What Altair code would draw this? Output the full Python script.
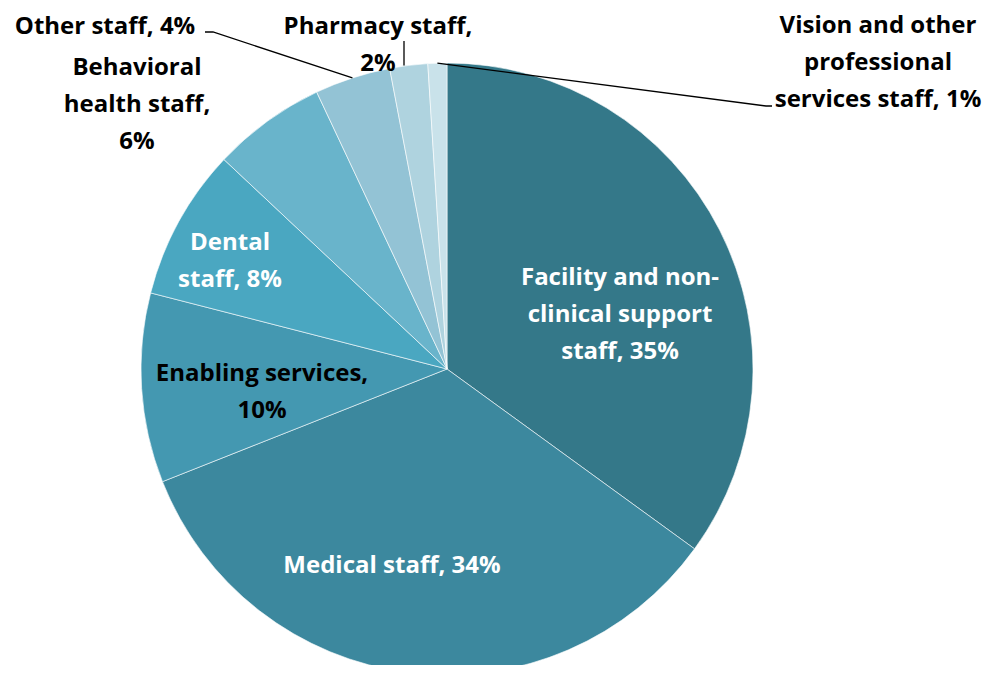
import math
import altair as alt
import pandas as pd

# ---- data ----
categories = [
    "Facility and non-clinical support staff",
    "Medical staff",
    "Enabling services",
    "Dental staff",
    "Behavioral health staff",
    "Other staff",
    "Pharmacy staff",
    "Vision and other professional services staff",
]
shares = [35, 34, 10, 8, 6, 4, 2, 1]
label_texts = [
    "Facility and non-\nclinical support\nstaff, 35%",
    "Medical staff, 34%",
    "Enabling services,\n10%",
    "Dental\nstaff, 8%",
    "Behavioral\nhealth staff,\n6%",
    "Other staff, 4%",
    "Pharmacy staff,\n2%",
    "Vision and other\nprofessional\nservices staff, 1%",
]
colors = ["#347889", "#3C889E", "#4498B1", "#4AA7C1", "#69B4CB", "#93C3D5", "#AFD3DF", "#C9E2EA"]
label_colors = ["white", "white", "black", "white", "black", "black", "black", "black"]

# ---- layout (pixels in plot area; y = first line) ----
CX, CY, R = 439, 361, 306
label_pos = [(612, 270), (384, 558), (254, 366), (222, 235), (129, 60), (97, 19), (370, 19), (870, 18)]
leader_ends = {
    5: [(205, 24), (197, 24)],
    6: [(396, 33)],
    7: [(758, 98), (764, 98)],
}

df = pd.DataFrame({"category": categories, "share": shares, "idx": list(range(len(shares)))})

lab = pd.DataFrame({
    "text": label_texts,
    "x": [p[0] for p in label_pos],
    "y": [p[1] for p in label_pos],
    "col": label_colors,
})

total = sum(shares)
cum = 0
mids = []
for s in shares:
    mids.append((cum + s / 2) / total * 2 * math.pi)
    cum += s
rows = []
for i, pts in leader_ends.items():
    a = mids[i]
    sx, sy = CX + R * math.sin(a), CY - R * math.cos(a)
    if i == 6:
        sx = pts[0][0]
    seq = [(sx, sy)] + pts
    for k, (x, y) in enumerate(seq):
        rows.append({"id": i, "ord": k, "x": x, "y": y})
lead = pd.DataFrame(rows)

pie = alt.Chart(df).mark_arc(radius=R, stroke="white", strokeWidth=0.6).encode(
    theta=alt.Theta("share:Q", stack=True),
    order=alt.Order("idx:Q"),
    color=alt.Color("category:N", scale=alt.Scale(domain=categories, range=colors), legend=None),
    x=alt.value(CX),
    y=alt.value(CY),
)

lines = alt.Chart(lead).mark_line(color="black", strokeWidth=1.3).encode(
    x=alt.X("x:Q", scale=None, axis=None),
    y=alt.Y("y:Q", scale=None, axis=None),
    detail="id:N",
    order="ord:Q",
)

text = alt.Chart(lab).mark_text(
    font="Open Sans", fontWeight="bold", fontSize=24, lineBreak="\n", lineHeight=37,
    align="center", baseline="middle",
).encode(
    x=alt.X("x:Q", scale=None, axis=None),
    y=alt.Y("y:Q", scale=None, axis=None),
    text="text:N",
    color=alt.Color("col:N", scale=None),
)

chart = alt.layer(pie, lines, text).properties(
    width=977, height=657, padding=0, autosize=alt.AutoSizeParams(type="none")
).configure_view(stroke=None)

chart.save("out.html", embed_options={"renderer": "svg", "actions": False})
